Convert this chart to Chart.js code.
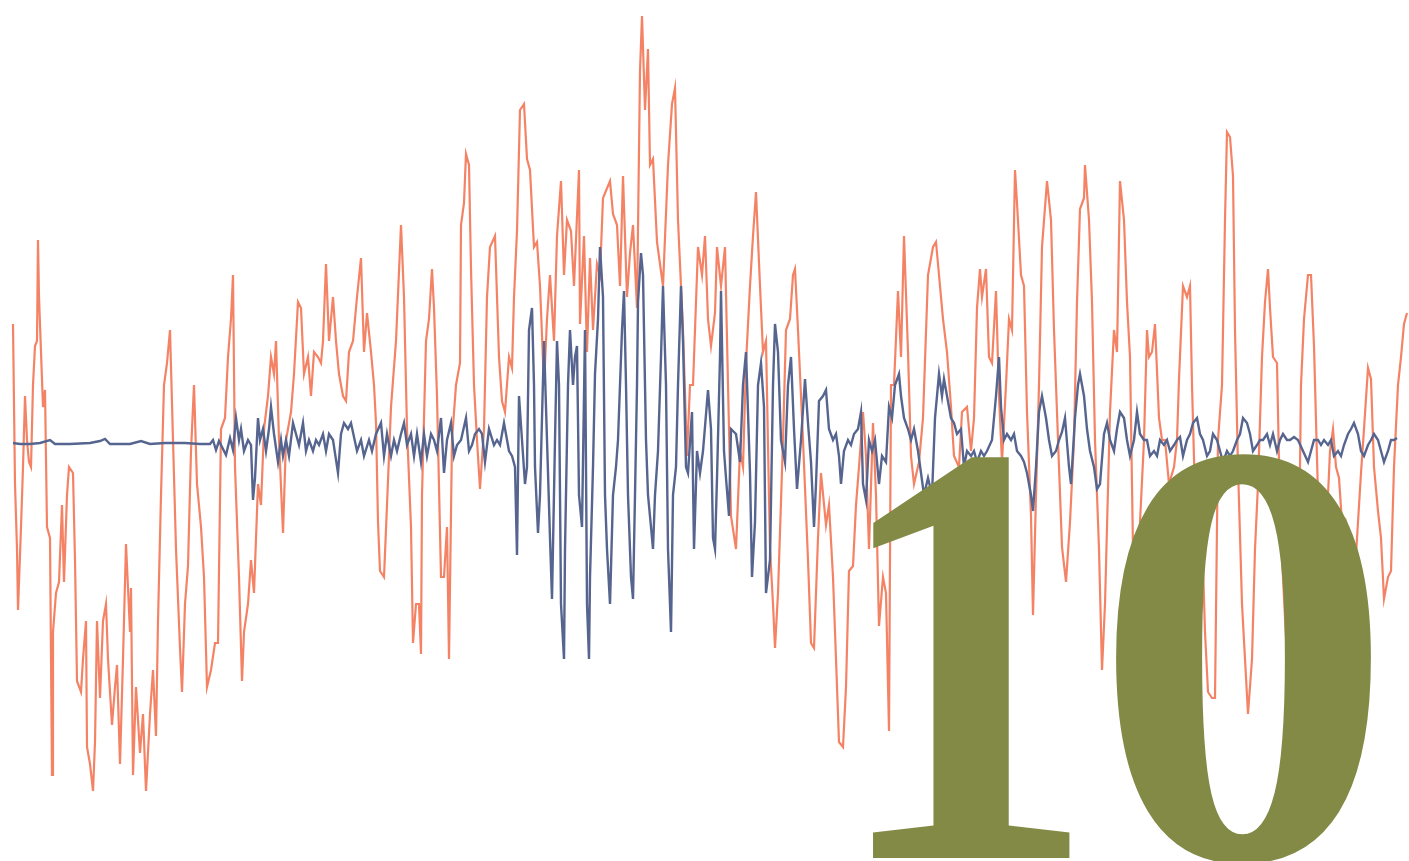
<!DOCTYPE html>
<html>
<head>
<meta charset="utf-8">
<script src="https://cdn.jsdelivr.net/npm/chart.js@4"></script>
<style>
  html, body { margin: 0; padding: 0; background: #fff; }
  #wrap { position: relative; width: 1409px; height: 861px; }
</style>
</head>
<body>
<div id="wrap"><canvas id="graph"></canvas></div>
<script>
// sample index and amplitude (0 = resting level)
const orangeT = [0,2,4,5,8,10,12,14,16,18,20,22,24,25,26,28,30,32,34,37,39,40,43,46,49,51,54,56,60,62,64,68,70,73,74,77,80,82,84,87,90,93,95,99,102,104,
  107,110,113,117,118,120,123,127,130,133,137,140,143,145,148,151,154,157,160,163,167,169,172,175,178,181,184,188,191,194,198,202,205,208,212,215,218,220,222,
  226,229,231,235,238,241,245,248,251,255,258,261,263,266,270,273,278,281,285,288,291,295,298,301,305,308,310,313,316,320,323,326,330,333,336,340,
  344,348,351,354,358,361,363,365,367,371,374,378,383,388,391,394,398,400,403,406,408,409,413,416,419,421,424,428,431,434,436,439,443,447,448,451,453,456,458,
  461,464,467,471,474,477,482,486,489,492,496,499,501,504,507,511,514,517,521,524,527,531,534,537,541,544,548,551,554,558,561,566,567,571,574,
  577,580,584,587,590,597,600,604,607,610,614,617,620,624,627,629,632,635,637,640,644,647,650,655,659,662,665,670,674,677,680,685,689,692,695,
  698,702,704,708,712,715,718,723,727,730,733,737,740,743,747,750,753,757,760,762,765,770,773,777,780,782,785,790,795,798,801,805,808,813,
  816,820,823,826,830,833,836,840,843,846,850,853,856,860,863,866,870,873,876,878,881,885,888,891,895,898,901,906,910,915,920,923,926,930,
  934,938,941,946,949,954,958,961,964,967,969,973,976,979,983,986,989,993,996,999,1002,1004,1008,1011,1014,1018,1020,1023,1026,1029,1034,1038,1041,1046,
  1049,1053,1057,1061,1064,1067,1071,1072,1076,1079,1082,1086,1089,1092,1097,1101,1104,1107,1111,1114,1117,1120,1124,1127,1131,1134,1136,1139,1142,1146,1149,1152,1156,1161,1164,1166,
  1170,1174,1177,1179,1182,1185,1189,1192,1195,1199,1202,1205,1209,1212,1214,1217,1220,1222,1225,1229,1232,1235,1239,1242,1245,1249,1252,1255,1257,1260,1264,1267,1270,1274,1277,1279,
  1281,1285,1288,1291,1295,1298,1301,1305,1308,1311,1315,1317,1320,1323,1326,1330,1333,1336,1341,1345,1348,1351,1355,1358,1361,1365,1368,1371,1375,1378,1381,1385,1388,1391,1394];
const orangeV = [120,-40,-105,-166,-83,-23,48,4,-18,-23,59,98,103,204,147,92,37,54,-83,-94,-331,-188,-149,-138,-61,-138,-51,-23,-29,-116,-237,-248,-215,-177,-303,-320,-347,-298,-177,-254,-177,-160,-215,-281,-243,-221,
  -320,-215,-100,-188,-144,-331,-243,-309,-270,-347,-270,-226,-292,-177,-51,59,81,114,4,-105,-204,-248,-160,-122,-7,59,-40,-83,-133,-243,-226,-199,-199,15,26,87,125,169,-23,
  -133,-237,-188,-160,-116,-149,-40,-61,15,48,87,70,103,4,-89,4,32,70,142,136,70,87,48,92,87,81,103,180,103,147,103,70,48,43,92,103,
  147,186,92,131,92,59,21,-78,-127,-133,-61,37,103,219,147,15,-83,-199,-160,-160,-210,-51,103,125,175,136,48,-133,-133,-83,-215,4,59,81,219,241,290,279,175,
  59,4,-45,15,147,197,208,87,43,32,87,76,147,213,334,340,285,274,197,202,158,59,125,169,103,208,263,169,224,213,158,274,120,208,92,
  186,114,180,169,246,263,230,219,158,268,147,191,219,136,373,428,334,395,279,285,202,180,158,279,340,356,224,114,-12,59,59,197,169,208,125,
  98,131,197,158,197,59,-72,-105,-7,-23,81,158,208,252,158,92,103,-105,-160,-204,-149,4,114,125,169,175,114,4,-116,-199,-204,-94,-29,-81,
  -61,-133,-215,-298,-303,-243,-127,-122,-61,-23,32,-12,-105,21,-51,-182,-133,-149,-287,59,59,153,87,208,92,-12,-40,-18,26,169,197,202,169,125,
  92,37,-12,-23,32,37,-7,26,136,175,147,175,87,81,153,48,-18,59,125,114,274,241,169,158,32,-72,-171,-51,59,197,263,224,114,-23,
  -103,-138,-78,4,142,235,246,279,224,142,4,-105,-226,-160,32,114,92,263,224,142,87,-105,-133,-78,4,114,87,92,120,26,4,4,-40,-23,4,65,
  158,147,158,59,-51,-78,-89,-188,-248,-254,-254,4,59,224,312,307,268,114,-23,-160,-215,-270,-215,-105,-40,87,142,175,136,87,81,-67,-133,-215,-287,-346,
  -270,-188,59,125,169,169,98,-51,-105,-105,-51,-7,15,-23,-34,-94,-78,-89,-144,-78,-29,15,76,65,-23,-67,-94,-155,-133,-127,-23,59,87,120,131];

const blueT = [0,7,17,27,37,42,57,77,87,92,97,117,128,137,152,172,187,197,200,203,206,209,213,217,220,
  223,226,228,231,235,238,240,242,245,247,250,253,256,258,261,265,268,270,273,276,280,283,286,290,293,296,300,303,306,310,313,316,320,325,328,331,335,338,
  344,348,351,356,359,363,368,371,374,378,381,384,388,391,394,398,401,404,408,411,414,418,421,424,428,431,434,438,441,444,448,453,456,
  459,462,466,469,472,476,481,484,487,491,496,499,502,504,506,509,512,514,516,519,521,522,525,527,531,534,537,539,542,544,546,548,551,552,555,557,560,562,564,566,569,572,574,576,
  577,580,582,585,587,590,592,594,597,600,603,605,609,611,613,615,618,620,622,624,625,628,630,633,635,638,640,642,645,648,650,653,655,658,660,663,665,668,670,673,675,679,681,684,687,690,695,
  698,700,702,704,707,708,711,713,716,718,723,727,730,733,737,739,742,745,748,751,753,757,760,762,765,768,772,775,778,781,784,788,792,795,798,801,803,806,810,813,
  816,820,823,826,828,831,835,838,841,845,848,850,853,856,859,862,866,869,873,876,879,882,886,888,891,895,898,901,905,908,911,915,919,922,926,929,
  931,934,938,941,944,948,951,954,958,961,964,968,971,974,979,983,986,988,991,994,998,1001,1004,1008,1011,1014,1018,1020,1023,1026,1029,1033,1036,1039,1043,1046,
  1049,1052,1056,1058,1062,1065,1067,1071,1074,1077,1081,1084,1087,1091,1094,1097,1101,1104,1107,1111,1114,1117,1121,1124,1127,1131,1134,1137,1141,1144,1147,1151,1154,1157,1161,1164,1167,
  1170,1174,1177,1180,1184,1187,1190,1194,1197,1200,1204,1207,1210,1214,1217,1220,1224,1227,1230,1234,1237,1240,1244,1247,1250,1254,1257,1260,1264,1267,1270,1274,1277,1281,
  1285,1290,1295,1298,1301,1305,1308,1311,1315,1318,1321,1325,1328,1331,1335,1338,1341,1345,1348,1351,1355,1358,1361,1365,1368,1371,1375,1378,1381,1384];
const blueV = [1,0,0,1,4,0,0,1,3,5,0,0,3,0,1,1,0,0,4,-6,3,-3,-11,6,-6,
  26,4,15,-7,4,-1,-56,-34,26,4,15,-7,15,37,10,-18,4,-12,4,-12,21,10,-1,21,-7,4,-7,4,-1,10,-7,10,4,-29,10,21,15,21,
  -7,4,-12,4,-7,10,21,-12,10,-12,4,-7,10,21,-1,10,-12,10,-18,10,-12,10,4,-7,26,-29,4,21,-12,-1,4,26,-7,
  -1,10,15,10,-18,15,-1,4,-1,21,-7,-12,-23,-111,48,4,-40,-23,114,136,59,-23,-89,-51,103,4,-94,-155,4,103,59,-160,-215,-105,59,114,59,87,98,-51,-83,114,-160,-215,
  -133,-23,70,125,197,147,-51,-105,-160,-51,-23,4,114,153,59,-51,-133,-155,-51,59,142,191,169,4,-51,-83,-105,-51,-7,87,158,59,-105,-188,-51,-23,59,158,103,-23,-29,32,-105,-7,-29,-7,54,
  15,-94,-105,-34,87,153,-7,-34,-72,15,10,-18,59,92,-29,-133,-78,59,81,37,-149,-116,59,120,92,4,-18,59,87,15,-45,4,65,21,-18,-83,-40,43,48,54,
  15,4,10,-12,-40,-7,4,-1,10,15,32,-40,-56,4,-7,4,-40,-12,-18,37,26,59,70,48,26,15,4,15,-7,-29,-51,-34,-51,26,70,48,
  65,48,26,21,10,15,-23,-7,-12,-7,-18,-7,-12,-7,4,48,87,37,4,10,4,10,-7,-12,-18,-29,-51,-67,-23,32,48,26,4,-12,-7,4,
  12,26,-23,-40,26,59,70,48,15,-7,-23,-45,-40,10,21,4,-7,15,32,26,4,-12,4,32,10,4,4,-12,-7,-12,4,-1,4,-7,-1,4,7,
  -12,4,10,21,26,10,4,-12,-7,10,4,-7,-18,-7,-12,-7,4,10,26,21,10,-7,-1,4,4,10,-1,10,-7,4,10,4,4,7,
  4,-7,-18,-7,4,4,-1,4,-1,4,-12,-7,-12,-1,10,15,21,10,-7,-12,-1,4,10,4,-7,-18,-7,4,4,6];

const bigLabel = ["1", "0"];

const toPoints = (ts, vs) => ts.map((t, i) => ({ x: t, y: vs[i] }));

// the big olive "10" sits over the traces, each digit squeezed to its box
const numberPlugin = {
  id: "bigNumber",
  afterDatasetsDraw(chart) {
    const ctx = chart.ctx;
    const lefts = [872, 1112];
    const widths = [200, 263];
    ctx.save();
    ctx.font = 'bold 607px "Liberation Serif", "Times New Roman", serif';
    ctx.fillStyle = "#838a46";
    ctx.textBaseline = "alphabetic";
    bigLabel.forEach((ch, i) => {
      const m = ctx.measureText(ch);
      const w = m.actualBoundingBoxLeft + m.actualBoundingBoxRight;
      ctx.save();
      ctx.translate(lefts[i], 0);
      ctx.scale(widths[i] / w, 1);
      ctx.fillText(ch, m.actualBoundingBoxLeft, 858);
      ctx.restore();
    });
    ctx.restore();
  },
};

const start = () => {
  new Chart(document.getElementById("graph"), {
    type: "line",
    data: {
      datasets: [
        {
          label: "blue",
          data: toPoints(blueT, blueV),
          borderColor: "#56658f",
          borderWidth: 2.4,
          pointRadius: 0,
          tension: 0,
        },
        {
          label: "orange",
          data: toPoints(orangeT, orangeV),
          borderColor: "rgba(243,118,84,0.9)",
          borderWidth: 2.2,
          pointRadius: 0,
          tension: 0,
        },
      ],
    },
    options: {
      responsive: true,
      maintainAspectRatio: false,
      animation: false,
      layout: { padding: 0 },
      plugins: { legend: { display: false }, tooltip: { enabled: false } },
      scales: {
        x: { type: "linear", min: -13, max: 1396, display: false },
        y: { type: "linear", min: -417, max: 444, display: false },
      },
    },
    plugins: [numberPlugin],
  });
};

document.fonts.load('bold 100px "Liberation Serif"').then(start, start);
</script>
</body>
</html>
